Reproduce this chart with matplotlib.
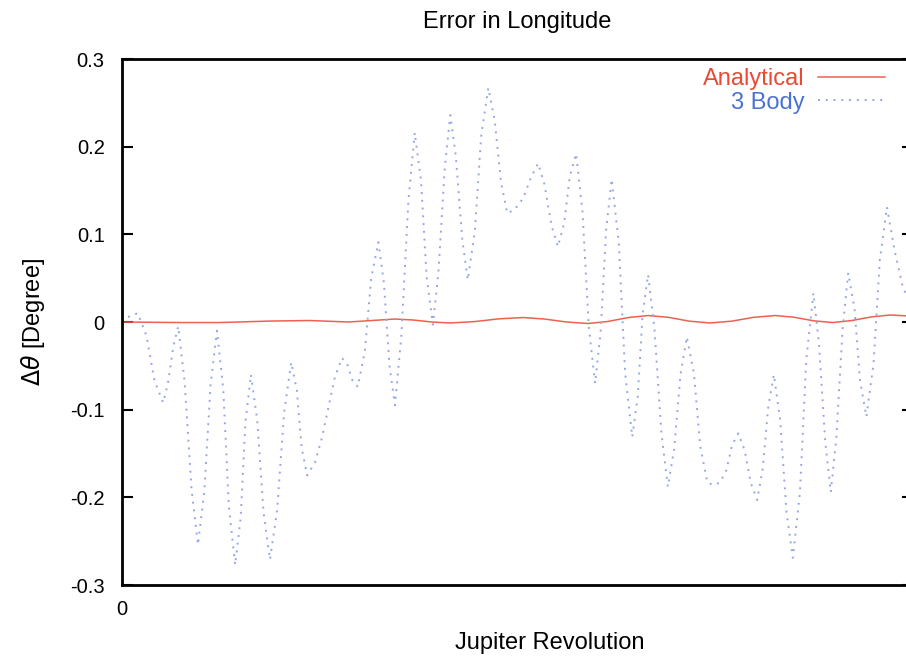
import matplotlib.pyplot as plt

plt.rcParams['font.family'] = ['Liberation Sans', 'DejaVu Sans']

# longitude error over one Jupiter revolution, three-body integration
rev_3body = [0.000, 0.010, 0.020, 0.031, 0.041, 0.052, 0.058, 0.065, 0.071, 0.079,
             0.088, 0.096, 0.104, 0.112, 0.120, 0.128, 0.135, 0.143, 0.150, 0.156,
             0.163, 0.171, 0.179, 0.187, 0.196, 0.205, 0.214, 0.221, 0.227, 0.234,
             0.244, 0.253, 0.269, 0.278, 0.285, 0.291, 0.298, 0.307, 0.315, 0.324,
             0.331, 0.338, 0.345, 0.353, 0.362, 0.370, 0.378, 0.385, 0.393, 0.400,
             0.408, 0.415, 0.422, 0.430, 0.437, 0.446, 0.454, 0.463, 0.471, 0.479,
             0.487, 0.496, 0.507, 0.517, 0.526, 0.534, 0.543, 0.551, 0.559, 0.566,
             0.574, 0.582, 0.590, 0.598, 0.605, 0.612, 0.619, 0.628, 0.636, 0.645,
             0.652, 0.658, 0.665, 0.673, 0.682, 0.690, 0.698, 0.706, 0.714, 0.723,
             0.731, 0.740, 0.748, 0.756, 0.764, 0.771, 0.779, 0.787, 0.795, 0.803,
             0.810, 0.817, 0.824, 0.832, 0.840, 0.848, 0.857, 0.865, 0.874, 0.881,
             0.889, 0.896, 0.903, 0.911, 0.918, 0.926, 0.933, 0.941, 0.950, 0.958,
             0.967, 0.977, 0.987, 0.997]
err_3body = [0.000, 0.007, 0.010, -0.016, -0.067, -0.092, -0.070, -0.027, -0.005, -0.067,
             -0.192, -0.254, -0.193, -0.071, -0.010, -0.077, -0.210, -0.277, -0.223, -0.114,
             -0.060, -0.113, -0.218, -0.271, -0.215, -0.102, -0.046, -0.078, -0.143, -0.175,
             -0.160, -0.131, -0.063, -0.041, -0.049, -0.066, -0.074, -0.033, 0.050, 0.091,
             0.045, -0.049, -0.095, -0.017, 0.138, 0.216, 0.161, 0.052, -0.003, 0.057,
             0.176, 0.236, 0.189, 0.095, 0.048, 0.103, 0.212, 0.267, 0.231, 0.160,
             0.124, 0.128, 0.141, 0.165, 0.181, 0.157, 0.110, 0.086, 0.113, 0.166,
             0.192, 0.127, -0.005, -0.070, -0.012, 0.105, 0.163, 0.090, -0.058, -0.131,
             -0.085, 0.008, 0.054, -0.007, -0.128, -0.188, -0.145, -0.060, -0.017, -0.059,
             -0.142, -0.183, -0.186, -0.183, -0.169, -0.141, -0.127, -0.146, -0.184, -0.203,
             -0.167, -0.096, -0.060, -0.112, -0.217, -0.269, -0.194, -0.043, 0.033, -0.024,
             -0.137, -0.194, -0.132, -0.007, 0.056, 0.015, -0.067, -0.108, -0.048, 0.071,
             0.131, 0.080, 0.040, 0.019]

# analytical solution error
rev_analytic = [0.000, 0.073, 0.124, 0.187, 0.238, 0.286, 0.345, 0.368, 0.392, 0.415,
                0.446, 0.476, 0.507, 0.534, 0.562, 0.589, 0.614, 0.640, 0.665, 0.691,
                0.717, 0.743, 0.771, 0.798, 0.826, 0.850, 0.874, 0.898, 0.922, 0.947,
                0.971, 0.997]
err_analytic = [0.0000, -0.0006, -0.0006, 0.0011, 0.0017, 0.0000, 0.0034, 0.0023, 0.0000, -0.0011,
                0.0005, 0.0036, 0.0051, 0.0034, 0.0000, -0.0017, 0.0006, 0.0051, 0.0074, 0.0053,
                0.0010, -0.0011, 0.0010, 0.0053, 0.0074, 0.0054, 0.0014, -0.0006, 0.0016, 0.0058,
                0.0080, 0.0068]

yticks = [-0.3, -0.2, -0.1, 0, 0.1, 0.2, 0.3]
ytick_labels = ['-0.3', '-0.2', '-0.1', '0', '0.1', '0.2', '0.3']

fig = plt.figure(figsize=(9.06, 6.60), dpi=100)
ax = fig.add_axes([0.1347, 0.1136, 0.8731, 0.797])

ax.plot(rev_analytic, err_analytic, color='#f0604f', lw=1.1, label='Analytical')
ax.plot(rev_3body, err_3body, color='#95a6e8', lw=1.4, linestyle=(0, (1, 3)), label='3 Body')

ax.set_xlim(0, 1)
ax.set_ylim(-0.3, 0.3)
ax.set_yticks(yticks)
ax.set_yticklabels(ytick_labels)
ax.set_xticks([0])
ax.set_xticklabels(['0'])
ax.tick_params(axis='y', direction='in', length=8, width=1.5, labelsize=14.5, right=True, pad=12.5)
ax.tick_params(axis='x', direction='in', length=0, labelsize=14.5, pad=11)
for sp in ax.spines.values():
    sp.set_linewidth(2)

fig.text(517 / 906, 1 - 22 / 660, 'Error in Longitude', fontsize=17, ha='center', va='center')
ax.set_xlabel('Jupiter Revolution', fontsize=17)
ax.xaxis.set_label_coords(0.541, -0.089)
ax.set_ylabel(r'$\Delta\theta$ [Degree]', fontsize=17)
ax.yaxis.set_label_coords(-0.095, 0.5)

leg = ax.legend(loc='upper right', bbox_to_anchor=(0.9646, 0.982), frameon=False,
                markerfirst=False, fontsize=17, handlelength=2.84, handletextpad=0.55,
                labelspacing=0.05, borderpad=0, borderaxespad=0)
for txt, col in zip(leg.get_texts(), ['#ea4a33', '#4a72d6']):
    txt.set_color(col)

fig.savefig('out.png', dpi=100)
